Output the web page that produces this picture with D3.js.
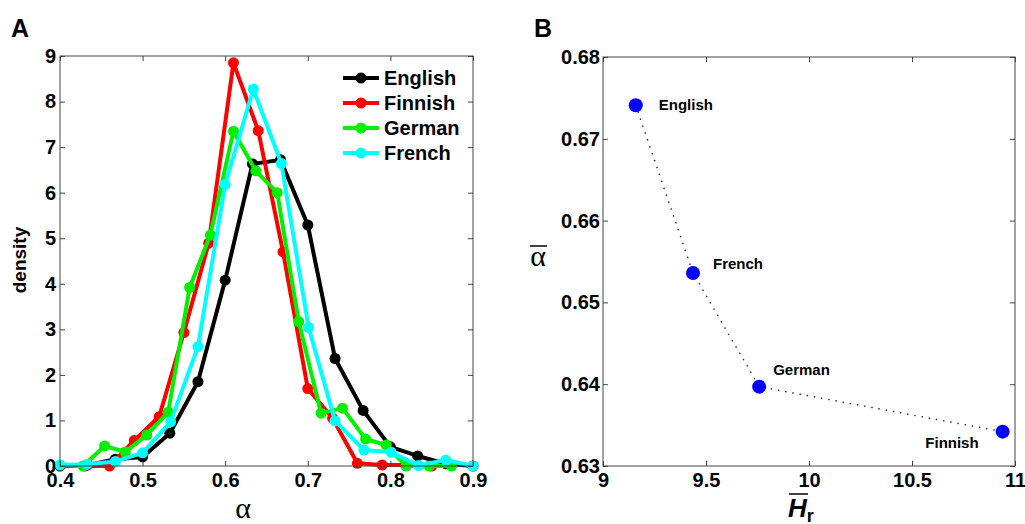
<!DOCTYPE html>
<html>
<head>
<meta charset="utf-8">
<script src="https://cdn.jsdelivr.net/npm/d3@7"></script>
<style>
  body { margin: 0; background: #fff; }
  svg { display: block; font-family: "Liberation Sans", Arial, sans-serif; }
  .tick text { font-weight: bold; font-size: 20px; fill: #000; }
  .tick line { stroke: #444; }
</style>
</head>
<body>
<div id="chart"></div>
<script>
let w = 1025;
let h = 524;

// panel A: density of alpha per language
let languages = ["English", "Finnish", "German", "French"];
let langColors = ["#000000", "#ff0000", "#00f000", "#00ffff"];

let englishX = [0.4, 0.433, 0.467, 0.5, 0.533, 0.567, 0.6, 0.633, 0.667, 0.7, 0.733, 0.767, 0.8, 0.833, 0.867, 0.9];
let englishY = [0.0, 0.02, 0.15, 0.2, 0.72, 1.85, 4.08, 6.63, 6.72, 5.29, 2.36, 1.22, 0.42, 0.22, 0.05, 0.0];

let finnishX = [0.43, 0.46, 0.49, 0.52, 0.55, 0.58, 0.61, 0.64, 0.67, 0.70, 0.73, 0.76, 0.79, 0.82, 0.85];
let finnishY = [0.0, 0.0, 0.56, 1.08, 2.93, 4.89, 8.85, 7.36, 4.7, 1.7, 1.05, 0.06, 0.02, 0.02, 0.0];

let germanX = [0.428, 0.454, 0.479, 0.505, 0.531, 0.557, 0.582, 0.61, 0.637, 0.663, 0.689, 0.716, 0.742, 0.77, 0.795, 0.819, 0.847, 0.874];
let germanY = [0.0, 0.44, 0.31, 0.68, 1.18, 3.92, 5.07, 7.35, 6.48, 6.0, 3.17, 1.16, 1.27, 0.59, 0.46, 0.0, 0.0, 0.0];

let frenchX = [0.4, 0.433, 0.467, 0.5, 0.534, 0.567, 0.6, 0.634, 0.668, 0.701, 0.733, 0.768, 0.801, 0.834, 0.867, 0.9];
let frenchY = [0.02, 0.04, 0.1, 0.29, 0.97, 2.62, 6.18, 8.27, 6.64, 3.04, 0.99, 0.35, 0.3, 0.01, 0.13, 0.0];

let seriesX = [englishX, finnishX, germanX, frenchX];
let seriesY = [englishY, finnishY, germanY, frenchY];

let xTicksA = [0.4, 0.5, 0.6, 0.7, 0.8, 0.9];
let yTicksA = [0, 1, 2, 3, 4, 5, 6, 7, 8, 9];

// panel B: mean alpha vs mean Hr
let pointNames = ["English", "French", "German", "Finnish"];
let meanH = [9.159, 9.437, 9.758, 10.94];
let meanAlpha = [0.6741, 0.6536, 0.6397, 0.6342];

let xTicksB = [9, 9.5, 10, 10.5, 11];
let yTicksB = [0.63, 0.64, 0.65, 0.66, 0.67, 0.68];

let svg = d3.select("#chart").append("svg")
  .attr("width", w)
  .attr("height", h);

function drawFrame(g, x, y, xTicks, yTicks, xFmt, yFmt, xPad, yPad) {
  let [x0, x1] = x.range();
  let [y0, y1] = y.range();

  g.append("g")
    .attr("transform", "translate(0," + y0 + ")")
    .call(d3.axisBottom(x).tickValues(xTicks).tickFormat(xFmt).tickSizeInner(-5).tickSizeOuter(0).tickPadding(xPad))
    .call(a => a.select(".domain").remove());
  g.append("g")
    .attr("transform", "translate(0," + y1 + ")")
    .call(d3.axisTop(x).tickValues(xTicks).tickFormat("").tickSizeInner(-5).tickSizeOuter(0))
    .call(a => a.select(".domain").remove());
  g.append("g")
    .attr("transform", "translate(" + x0 + ",0)")
    .call(d3.axisLeft(y).tickValues(yTicks).tickFormat(yFmt).tickSizeInner(-5).tickSizeOuter(0).tickPadding(yPad))
    .call(a => a.select(".domain").remove());
  g.append("g")
    .attr("transform", "translate(" + x1 + ",0)")
    .call(d3.axisRight(y).tickValues(yTicks).tickFormat("").tickSizeInner(-5).tickSizeOuter(0))
    .call(a => a.select(".domain").remove());

  g.append("rect")
    .attr("x", x0).attr("y", y1)
    .attr("width", x1 - x0).attr("height", y0 - y1)
    .attr("fill", "none")
    .attr("stroke", "#444")
    .attr("stroke-width", 1);
}

// ---------------- panel A
let xA = d3.scaleLinear().domain([0.4, 0.9]).range([60, 473]);
let yA = d3.scaleLinear().domain([0, 9]).range([466, 56]);

let gA = svg.append("g");

let line = d3.line().x(d => xA(d[0])).y(d => yA(d[1]));

let plotA = gA.append("g");

languages.forEach((lang, i) => {
  let pts = seriesX[i].map((v, j) => [v, seriesY[i][j]]);
  let sg = plotA.append("g").attr("class", "series");
  sg.append("path")
    .attr("d", line(pts))
    .attr("fill", "none")
    .attr("stroke", langColors[i])
    .attr("stroke-width", 4)
    .attr("stroke-linejoin", "round");
  sg.selectAll("circle").data(pts).enter()
    .append("circle")
    .attr("cx", d => xA(d[0]))
    .attr("cy", d => yA(d[1]))
    .attr("r", 5.5)
    .attr("fill", langColors[i]);
});

drawFrame(gA, xA, yA, xTicksA, yTicksA, d3.format(".1f"), d3.format("d"), 7, 4);

// legend
let legend = gA.append("g").attr("transform", "translate(343,78)");
languages.forEach((lang, i) => {
  let row = legend.append("g").attr("transform", "translate(0," + (i * 25) + ")");
  row.append("line")
    .attr("x1", 0).attr("x2", 36)
    .attr("stroke", langColors[i]).attr("stroke-width", 4);
  row.append("circle").attr("cx", 18).attr("r", 5.5).attr("fill", langColors[i]);
  row.append("text")
    .attr("x", 41)
    .attr("dy", "0.36em")
    .attr("font-size", 20)
    .attr("font-weight", "bold")
    .text(lang);
});

gA.append("text")
  .attr("x", 243).attr("y", 518)
  .attr("text-anchor", "middle")
  .attr("font-family", "'Liberation Serif', 'DejaVu Serif', serif")
  .attr("font-size", 30)
  .text("α");

gA.append("text")
  .attr("transform", "translate(26,260) rotate(-90)")
  .attr("text-anchor", "middle")
  .attr("font-size", 19)
  .attr("font-weight", "bold")
  .text("density");

svg.append("text")
  .attr("x", 11).attr("y", 37)
  .attr("font-size", 25)
  .attr("font-weight", "bold")
  .text("A");

// ---------------- panel B
let xB = d3.scaleLinear().domain([9, 11]).range([603, 1015]);
let yB = d3.scaleLinear().domain([0.63, 0.68]).range([466, 57]);

let gB = svg.append("g");

let ptsB = meanH.map((v, i) => [v, meanAlpha[i]]);

gB.append("path")
  .attr("d", d3.line().x(d => xB(d[0])).y(d => yB(d[1]))(ptsB))
  .attr("fill", "none")
  .attr("stroke", "#333")
  .attr("stroke-width", 1.6)
  .attr("stroke-linecap", "round")
  .attr("stroke-dasharray", "0.1,7.2");

gB.selectAll(".pt").data(ptsB).enter()
  .append("circle")
  .attr("class", "pt")
  .attr("cx", d => xB(d[0]))
  .attr("cy", d => yB(d[1]))
  .attr("r", 7)
  .attr("fill", "#0000ff");

// label offsets relative to each point
let labelOffset = {
  English: [23, -1, "start"],
  French: [20, -9, "start"],
  German: [14, -17, "start"],
  Finnish: [-24, 11, "end"]
};

gB.selectAll(".lbl").data(ptsB).enter()
  .append("text")
  .attr("class", "lbl")
  .attr("x", (d, i) => xB(d[0]) + labelOffset[pointNames[i]][0])
  .attr("y", (d, i) => yB(d[1]) + labelOffset[pointNames[i]][1])
  .attr("dy", "0.36em")
  .attr("text-anchor", (d, i) => labelOffset[pointNames[i]][2])
  .attr("font-size", 15)
  .attr("font-weight", "bold")
  .text((d, i) => pointNames[i]);

drawFrame(gB, xB, yB, xTicksB, yTicksB, d3.format("~g"), d3.format(".2f"), 7, 3);

// y label: alpha with overline
gB.append("text")
  .attr("x", 538).attr("y", 266)
  .attr("text-anchor", "middle")
  .attr("font-family", "'Liberation Serif', 'DejaVu Serif', serif")
  .attr("font-size", 30)
  .text("α");
gB.append("line")
  .attr("x1", 530).attr("x2", 547)
  .attr("y1", 246).attr("y2", 246)
  .attr("stroke", "#000").attr("stroke-width", 1.5);

// x label: H bar sub r
let xl = gB.append("text")
  .attr("x", 788).attr("y", 517)
  .attr("font-size", 26)
  .attr("font-weight", "bold");
xl.append("tspan").attr("font-style", "italic").text("H");
xl.append("tspan").attr("font-size", 18).attr("dy", 5).text("r");
gB.append("line")
  .attr("x1", 789).attr("x2", 808)
  .attr("y1", 494).attr("y2", 494)
  .attr("stroke", "#000").attr("stroke-width", 1.5);

svg.append("text")
  .attr("x", 534).attr("y", 37)
  .attr("font-size", 25)
  .attr("font-weight", "bold")
  .text("B");
</script>
</body>
</html>
